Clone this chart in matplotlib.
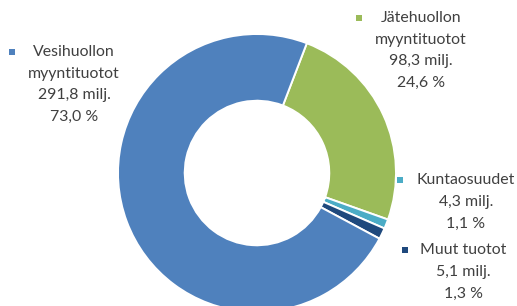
import matplotlib
matplotlib.use("Agg")
import matplotlib.pyplot as plt

# Data
names = ["Jätehuollon\nmyyntituotot", "Kuntaosuudet", "Muut tuotot", "Vesihuollon\nmyyntituotot"]
values = [98.3, 4.3, 5.1, 291.8]          # milj.
percents = [24.6, 1.1, 1.3, 73.0]         # %
colors = ["#9BBB59", "#4BACC6", "#1F497D", "#4F81BD"]

W, H = 517, 306
fig = plt.figure(figsize=(W / 100, H / 100), dpi=100)
ax = fig.add_axes([0, 0, 1, 1])

cx, cy, R = 257, H - 173, 139
ax.pie(percents, colors=colors, startangle=69, counterclock=False,
       center=(cx, cy), radius=R,
       wedgeprops=dict(width=R * 0.48, edgecolor="white", linewidth=1.4))
ax.set_xlim(0, W)
ax.set_ylim(0, H)
ax.set_aspect("equal")
ax.axis("off")

# label layout (pixel positions: text centre x, first-line y, marker x)
layout = [(421, 18, 359), (466, 180, 400), (463, 250, 405), (74, 52, 12)]
line_h = 21.7
tc = "#404040"
for (tx, ty, mx), n, v, p, c in zip(layout, names, values, percents, colors):
    lines = n.split("\n") + [f"{v:.1f}".replace(".", ",") + " milj.",
                             f"{p:.1f}".replace(".", ",") + " %"]
    for i, ln in enumerate(lines):
        ax.text(tx, H - (ty + i * line_h), ln, ha="center", va="center",
                fontsize=11.4, color=tc, family="Lato")
    ax.scatter([mx], [H - ty], marker="s", s=18, color=c, linewidths=0)

fig.savefig("out.png", dpi=100)
